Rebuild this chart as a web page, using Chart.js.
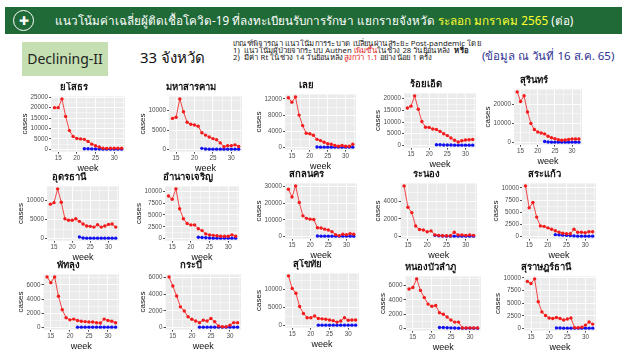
<!DOCTYPE html>
<html>
<head>
<meta charset="utf-8">
<script src="https://cdn.jsdelivr.net/npm/chart.js@4.4.0/dist/chart.umd.min.js"></script>
<style>
  body { margin: 0; width: 628px; height: 353px; background: #fff; position: relative; overflow: hidden;
         font-family: 'Noto Sans', 'Liberation Sans', sans-serif; }
  #bar { position: absolute; left: 5px; top: 7px; width: 617px; height: 27px; background: #1f6a37; }
  #logo { position: absolute; left: 8px; top: 3px; width: 19px; height: 19px; border: 1.5px solid #fff; border-radius: 50%;
          color: #fff; font-size: 12px; line-height: 19px; text-align: center; }
  #title { position: absolute; left: 50px; top: 5px; color: #fff; font-size: 11.7px; white-space: nowrap; }
  #title .hl { color: #ffff33; }
  #box { position: absolute; left: 22px; top: 42px; width: 86px; height: 34px; background: #c5dfb2;
         font-size: 14px; line-height: 34px; text-align: center; color: #222; }
  #count { position: absolute; left: 140px; top: 46px; font-size: 15px; color: #111; white-space: nowrap; }
  #crit { position: absolute; left: 233px; top: 40px; font-size: 7.3px; line-height: 7.2px; color: #222; white-space: nowrap;
          transform: scaleX(1.06); transform-origin: left top; }
  #crit .r { color: #e0201b; }
  #asof { position: absolute; left: 482px; top: 47px; font-size: 11.5px; color: #2e3192; white-space: nowrap; }
  canvas { position: absolute; }
</style>
</head>
<body>
<div id="bar">
  <div id="logo">✚</div>
  <div id="title">แนวโน้มค่าเฉลี่ยผู้ติดเชื้อโควิด-19 ที่ลงทะเบียนรับการรักษา แยกรายจังหวัด <span class="hl">ระลอก มกราคม 2565</span> (ต่อ)</div>
</div>
<div id="box">Declining-II</div>
<div id="count">33 จังหวัด</div>
<div id="crit">เกณฑ์พิจารณา แนวโน้มการระบาด เปลี่ยนผ่านสู่ระยะ Post-pandemic โดย<br>
1)&nbsp; แนวโน้มผู้ป่วยจากระบบ Authen <span class="r">เพิ่มขึ้น</span>ในช่วง 28 วันย้อนหลัง&nbsp; <b>หรือ</b><br>
2)&nbsp; มีค่า Rt ในช่วง 14 วันย้อนหลัง<span class="r">สูงกว่า 1.1</span> อย่างน้อย 1 ครั้ง</div>
<div id="asof">(ข้อมูล ณ วันที่ 16 ส.ค. 65)</div>

<script>
const provinces = ['ยโสธร', 'มหาสารคาม', 'เลย', 'ร้อยเอ็ด', 'สุรินทร์',
  'อุดรธานี', 'อำนาจเจริญ', 'สกลนคร', 'ระนอง', 'สระแก้ว',
  'พัทลุง', 'กระบี่', 'สุโขทัย', 'หนองบัวลำภู', 'สุราษฎร์ธานี'];

const weeks = [14, 15, 16, 17, 18, 19, 20, 21, 22, 23, 24, 25, 26, 27, 28, 29, 30, 31, 32];
const authenWeeks = [22, 23, 24, 25, 26, 27, 28, 29, 30, 31, 32];
const weekTicks = [15, 20, 25, 30];

// red series, weeks 14-32
const trendCases = [
  [20000, 20000, 24200, 15800, 9000, 6200, 5200, 5000, 4800, 3800, 2500, 1700, 1100, 500, 400, 500, 500, 500, 500],
  [8000, 8300, 13000, 9700, 7000, 6500, 6300, 6000, 4300, 3700, 3200, 2800, 2500, 1700, 700, 1000, 1000, 1200, 800],
  [12300, 11200, 12500, 8000, 5400, 3500, 3400, 3000, 2000, 1700, 1300, 900, 800, 500, 300, 500, 300, 300, 800],
  [16000, 16800, 21200, 15500, 10200, 7800, 7700, 7000, 6800, 6000, 5000, 4200, 3200, 2200, 1500, 2000, 2300, 2400, 2500],
  [26500, 21500, 24500, 16000, 10000, 6800, 5500, 5000, 4500, 3300, 2500, 2000, 1500, 1200, 1300, 1600, 1800, 1800, 1800],
  [9000, 9400, 13000, 9500, 5200, 4800, 4800, 5200, 4500, 3800, 3300, 3200, 3000, 3600, 3000, 3300, 3700, 3800, 3000],
  [9000, 8300, 10500, 6300, 4200, 3200, 2900, 2900, 2100, 1700, 1000, 800, 700, 600, 500, 500, 500, 800, 500],
  [28500, 23800, 30500, 20500, 12500, 11000, 10500, 10300, 5300, 5200, 4500, 4000, 3000, 1200, 600, 1500, 1200, 1800, 1500],
  [5700, 3300, 2700, 1200, 800, 750, 550, 650, 200, 150, 100, 100, 100, 500, 200, 200, 150, 200, 150],
  [10400, 5900, 7000, 4000, 2200, 2100, 1800, 1500, 1200, 900, 700, 600, 600, 1500, 900, 900, 800, 1000, 1000],
  [7100, 6300, 7100, 4400, 2500, 1400, 1100, 1200, 1000, 900, 850, 800, 800, 700, 650, 1200, 1000, 900, 700],
  [6100, 5000, 3800, 2500, 2000, 1300, 1000, 800, 600, 900, 800, 1100, 700, 200, 100, 100, 300, 600, 600],
  [13800, 10300, 9000, 5300, 3400, 2200, 2200, 2700, 2000, 1900, 1800, 1600, 1400, 1000, 1300, 2200, 1500, 1600, 1600],
  [5500, 5700, 6900, 5300, 4300, 3400, 3100, 3200, 2200, 2000, 1600, 1200, 900, 900, 100, 100, 100, 100, 100],
  [9300, 8900, 9800, 5300, 3300, 2600, 2100, 2000, 2200, 2000, 1700, 1900, 2100, 200, 200, 300, 700, 1300, 900]
];

// blue series, weeks 22-32
const authenCases = [
  [300, 250, 200, 150, 150, 100, 100, 100, 100, 100, 100],
  [300, 150, 100, 100, 100, 100, 100, 100, 100, 100, 100],
  [100, 80, 80, 80, 80, 80, 80, 80, 80, 80, 80],
  [300, 250, 200, 150, 150, 100, 100, 100, 100, 100, 100],
  [500, 300, 200, 200, 200, 200, 200, 200, 200, 200, 200],
  [400, 150, 100, 100, 100, 100, 100, 100, 100, 100, 100],
  [300, 250, 200, 150, 100, 100, 100, 100, 100, 100, 100],
  [400, 300, 300, 300, 300, 300, 300, 300, 300, 300, 300],
  [150, 100, 80, 60, 60, 60, 60, 60, 60, 60, 60],
  [400, 350, 300, 250, 200, 150, 100, 100, 100, 100, 100],
  [80, 80, 80, 80, 80, 80, 80, 80, 80, 80, 80],
  [60, 60, 60, 60, 60, 60, 60, 60, 60, 60, 60],
  [150, 150, 150, 150, 150, 150, 150, 150, 150, 150, 150],
  [150, 150, 120, 100, 80, 60, 60, 60, 60, 60, 60],
  [150, 120, 100, 100, 100, 100, 100, 100, 100, 100, 100]
];

const caseTicks = [
  [0, 5000, 10000, 15000, 20000, 25000],
  [0, 5000, 10000],
  [0, 4000, 8000, 12000],
  [0, 5000, 10000, 15000, 20000],
  [0, 10000, 20000],
  [0, 5000, 10000],
  [0, 2500, 5000, 7500, 10000],
  [0, 10000, 20000, 30000],
  [0, 2000, 4000],
  [0, 2500, 5000, 7500, 10000],
  [0, 2000, 4000, 6000],
  [0, 2000, 4000, 6000],
  [0, 5000, 10000],
  [0, 2000, 4000, 6000],
  [0, 2500, 5000, 7500, 10000]
];

// canvas boxes: left, top, width, height
const boxes = [
  [20, 82, 109, 92], [138, 82, 108, 92], [254, 80, 106, 92], [373, 79, 107, 91], [483, 75, 103, 92],
  [16, 172, 107, 91], [134, 172, 109, 91], [254, 169, 107, 92], [373, 169, 108, 92], [491, 169, 109, 92],
  [16, 260, 107, 92], [138, 260, 107, 92], [254, 259, 109, 91], [378, 262, 107, 91], [493, 262, 107, 91]
];

const FONT = "'Liberation Sans', 'Noto Sans', sans-serif";

const panelBg = {
  id: 'panelBg',
  beforeDraw(c) {
    const a = c.chartArea;
    c.ctx.save();
    c.ctx.fillStyle = '#ebebeb';
    c.ctx.fillRect(a.left, a.top, a.right - a.left, a.bottom - a.top);
    c.ctx.restore();
  }
};

function withMinors(major, lo, hi) {
  const step = major[1] - major[0];
  const out = [];
  for (let v = major[0] - step / 2; v <= hi; v += step / 2) {
    if (v >= lo) out.push({ value: v });
  }
  return out;
}

function axisOpts(major, lo, hi, title, titleSize) {
  const isMajor = v => major.includes(v);
  return {
    type: 'linear', min: lo, max: hi,
    afterBuildTicks: s => { s.ticks = withMinors(major, lo, hi); },
    ticks: {
      autoSkip: false, maxRotation: 0, padding: 1,
      font: { family: FONT, size: 6.3 }, color: '#4d4d4d',
      callback: v => isMajor(v) ? String(v) : ''
    },
    grid: {
      color: '#ffffff',
      lineWidth: ctx => isMajor(ctx.tick.value) ? 0.9 : 0.45,
      tickColor: ctx => isMajor(ctx.tick.value) ? '#333333' : 'rgba(0,0,0,0)',
      tickLength: 2
    },
    border: { display: false },
    title: { display: true, text: title, font: { family: FONT, size: titleSize }, color: '#111', padding: 0 }
  };
}

provinces.forEach((name, i) => {
  const [l, t, w, h] = boxes[i];
  const cv = document.createElement('canvas');
  cv.width = w; cv.height = h;
  cv.style.left = l + 'px'; cv.style.top = t + 'px';
  document.body.appendChild(cv);

  const red = trendCases[i], blue = authenCases[i];
  const all = red.concat(blue);
  const dMax = Math.max(...all), dMin = Math.min(...all);
  const pad = (dMax - dMin) * 0.05;

  new Chart(cv, {
    type: 'line',
    data: {
      datasets: [
        { data: weeks.map((wk, j) => ({ x: wk, y: red[j] })), borderColor: '#f21a1a', backgroundColor: '#f21a1a',
          pointRadius: 1.7, pointBorderWidth: 0, borderWidth: 0.8 },
        { data: authenWeeks.map((wk, j) => ({ x: wk, y: blue[j] })), borderColor: '#1010f0', backgroundColor: '#1010f0',
          pointRadius: 1.7, pointBorderWidth: 0, borderWidth: 0.8 }
      ]
    },
    options: {
      responsive: false, animation: false, devicePixelRatio: 1,
      layout: { padding: { left: 0, right: 2, top: 0, bottom: 0 } },
      plugins: {
        legend: { display: false },
        tooltip: { enabled: false },
        title: { display: true, text: name, font: { family: FONT, size: 9.5, weight: 'bold' }, color: '#111',
                 padding: { top: 0, bottom: 3 } }
      },
      scales: {
        x: axisOpts(weekTicks, 13.1, 32.9, 'week', 9),
        y: axisOpts(caseTicks[i], dMin - pad, dMax + pad, 'cases', 8)
      }
    },
    plugins: [panelBg]
  });
});
</script>
</body>
</html>
